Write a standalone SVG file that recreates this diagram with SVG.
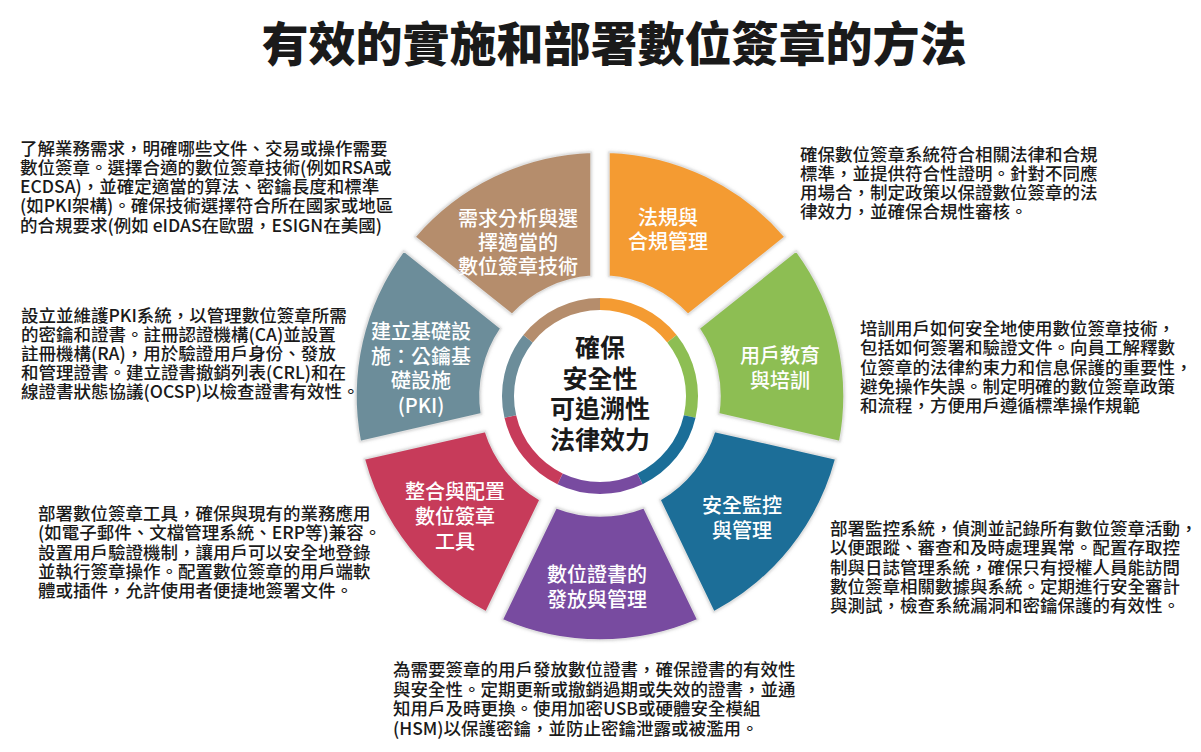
<svg xmlns="http://www.w3.org/2000/svg" width="1201" height="752" viewBox="0 0 1201 752" lang="zh-Hant-TW" xml:lang="zh-Hant-TW">
<defs>
<style>
.title{font-family:"Noto Sans CJK TC","Noto Sans",sans-serif;font-size:47px;font-weight:900;fill:#1a1a1a;text-anchor:middle}
.desc{font-family:"Noto Sans CJK TC","Noto Sans",sans-serif;font-size:17.5px;font-weight:500;fill:#1a1a1a}
.seg{stroke:#e2e2e2;stroke-width:1.5;filter:url(#sh)}
.lbl{font-family:"Noto Sans CJK TC","Noto Sans",sans-serif;font-size:20px;font-weight:500;fill:#ffffff;text-anchor:middle}
.ctr{font-family:"Noto Sans CJK TC","Noto Sans",sans-serif;font-size:25px;font-weight:700;fill:#1a1a1a;text-anchor:middle}
.ring{fill:none;stroke-width:12}
</style>
<filter id="sh" x="-10%" y="-10%" width="120%" height="120%">
<feDropShadow dx="0" dy="0" stdDeviation="1.5" flood-color="#9a9a9a" flood-opacity="0.5"/>
</filter>
</defs>
<rect width="1201" height="752" fill="#ffffff"/>
<text class="title" x="614" y="61">有效的實施和部署數位簽章的方法</text>

<g id="connectors"></g>

<g id="node-requirements">
<path class="seg" fill="#B58D6C" d="M414.96,236.95 A244,244 0 0 1 591.02,152.17 L591,276.34 A120,120 0 0 0 512.05,314.36 Z"/>
<text class="lbl" x="518"><tspan x="518" y="226">需求分析與選</tspan><tspan x="518" y="250">擇適當的</tspan><tspan x="518" y="274">數位簽章技術</tspan></text>
</g>
<g id="node-compliance">
<path class="seg" fill="#F49B32" d="M608.98,152.17 A244,244 0 0 1 785.04,236.95 L687.95,314.36 A120,120 0 0 0 609,276.34 Z"/>
<text class="lbl"><tspan x="668" y="225">法規與</tspan><tspan x="668" y="249">合規管理</tspan></text>
</g>
<g id="node-training">
<path class="seg" fill="#8DBE53" d="M796.24,251 A244,244 0 0 1 839.72,441.5 L718.66,413.85 A120,120 0 0 0 699.17,328.43 Z"/>
<text class="lbl"><tspan x="780" y="363">用戶教育</tspan><tspan x="780" y="388">與培訓</tspan></text>
</g>
<g id="node-monitoring">
<path class="seg" fill="#1B6E98" d="M835.72,459.02 A244,244 0 0 1 713.89,611.79 L660.03,499.91 A120,120 0 0 0 714.66,431.4 Z"/>
<text class="lbl"><tspan x="742" y="513">安全監控</tspan><tspan x="742" y="538">與管理</tspan></text>
</g>
<g id="node-certificates">
<path class="seg" fill="#784BA0" d="M697.7,619.59 A244,244 0 0 1 502.3,619.59 L556.19,507.72 A120,120 0 0 0 643.81,507.72 Z"/>
<text class="lbl"><tspan x="597" y="582">數位證書的</tspan><tspan x="597" y="607">發放與管理</tspan></text>
</g>
<g id="node-integration">
<path class="seg" fill="#C73B5A" d="M486.11,611.79 A244,244 0 0 1 364.28,459.02 L485.34,431.4 A120,120 0 0 0 539.97,499.91 Z"/>
<text class="lbl"><tspan x="455" y="499">整合與配置</tspan><tspan x="455" y="524">數位簽章</tspan><tspan x="455" y="549">工具</tspan></text>
</g>
<g id="node-pki">
<path class="seg" fill="#6C8D9A" d="M360.28,441.5 A244,244 0 0 1 403.76,251 L500.83,328.43 A120,120 0 0 0 481.34,413.85 Z"/>
<text class="lbl"><tspan x="421" y="339">建立基礎設</tspan><tspan x="421" y="364">施：公鑰基</tspan><tspan x="421" y="388">礎設施</tspan><tspan x="421" y="413">(PKI)</tspan></text>
</g>

<g id="node-center">
<circle cx="600" cy="396" r="86" fill="#ffffff"/>
<path class="ring" stroke="#F49B32" d="M600,304 A92,92 0 0 1 671.93,338.64"/>
<path class="ring" stroke="#8DBE53" d="M671.93,338.64 A92,92 0 0 1 689.69,416.47"/>
<path class="ring" stroke="#1B6E98" d="M689.69,416.47 A92,92 0 0 1 639.92,478.89"/>
<path class="ring" stroke="#784BA0" d="M639.92,478.89 A92,92 0 0 1 560.08,478.89"/>
<path class="ring" stroke="#C73B5A" d="M560.08,478.89 A92,92 0 0 1 510.31,416.47"/>
<path class="ring" stroke="#6C8D9A" d="M510.31,416.47 A92,92 0 0 1 528.07,338.64"/>
<path class="ring" stroke="#B58D6C" d="M528.07,338.64 A92,92 0 0 1 600,304"/>
<text class="ctr"><tspan x="600" y="357">確保</tspan><tspan x="600" y="388">安全性</tspan><tspan x="600" y="418">可追溯性</tspan><tspan x="600" y="449">法律效力</tspan></text>
</g>

<g id="desc-requirements">
<text class="desc"><tspan x="20" y="154.5">了解業務需求，明確哪些文件、交易或操作需要</tspan><tspan x="20" y="173.8">數位簽章。選擇合適的數位簽章技術(例如RSA或</tspan><tspan x="20" y="193.1">ECDSA)，並確定適當的算法、密鑰長度和標準</tspan><tspan x="20" y="212.4">(如PKI架構)。確保技術選擇符合所在國家或地區</tspan><tspan x="20" y="231.7">的合規要求(例如 eIDAS在歐盟，ESIGN在美國)</tspan></text>
</g>
<g id="desc-compliance">
<text class="desc"><tspan x="800" y="160.5">確保數位簽章系統符合相關法律和合規</tspan><tspan x="800" y="179.8">標準，並提供符合性證明。針對不同應</tspan><tspan x="800" y="199.1">用場合，制定政策以保證數位簽章的法</tspan><tspan x="800" y="218.4">律效力，並確保合規性審核。</tspan></text>
</g>
<g id="desc-pki">
<text class="desc"><tspan x="21" y="321.6">設立並維護PKI系統，以管理數位簽章所需</tspan><tspan x="21" y="340.8">的密鑰和證書。註冊認證機構(CA)並設置</tspan><tspan x="21" y="360">註冊機構(RA)，用於驗證用戶身份、發放</tspan><tspan x="21" y="379.2">和管理證書。建立證書撤銷列表(CRL)和在</tspan><tspan x="21" y="398.4">線證書狀態協議(OCSP)以檢查證書有效性。</tspan></text>
</g>
<g id="desc-training">
<text class="desc"><tspan x="860" y="335">培訓用戶如何安全地使用數位簽章技術，</tspan><tspan x="860" y="354.3">包括如何簽署和驗證文件。向員工解釋數</tspan><tspan x="860" y="373.6">位簽章的法律約束力和信息保護的重要性，</tspan><tspan x="860" y="392.9">避免操作失誤。制定明確的數位簽章政策</tspan><tspan x="860" y="412.2">和流程，方便用戶遵循標準操作規範</tspan></text>
</g>
<g id="desc-integration">
<text class="desc"><tspan x="38" y="520">部署數位簽章工具，確保與現有的業務應用</tspan><tspan x="38" y="539.3">(如電子郵件、文檔管理系統、ERP等)兼容。</tspan><tspan x="38" y="558.6">設置用戶驗證機制，讓用戶可以安全地登錄</tspan><tspan x="38" y="577.9">並執行簽章操作。配置數位簽章的用戶端軟</tspan><tspan x="38" y="597.2">體或插件，允許使用者便捷地簽署文件。</tspan></text>
</g>
<g id="desc-monitoring">
<text class="desc"><tspan x="830" y="535">部署監控系統，偵測並記錄所有數位簽章活動，</tspan><tspan x="830" y="554.3">以便跟蹤、審查和及時處理異常。配置存取控</tspan><tspan x="830" y="573.6">制與日誌管理系統，確保只有授權人員能訪問</tspan><tspan x="830" y="592.9">數位簽章相關數據與系統。定期進行安全審計</tspan><tspan x="830" y="612.2">與測試，檢查系統漏洞和密鑰保護的有效性。</tspan></text>
</g>
<g id="desc-certificates">
<text class="desc"><tspan x="393" y="676">為需要簽章的用戶發放數位證書，確保證書的有效性</tspan><tspan x="393" y="695.6">與安全性。定期更新或撤銷過期或失效的證書，並通</tspan><tspan x="393" y="715.2">知用戶及時更換。使用加密USB或硬體安全模組</tspan><tspan x="393" y="734.8">(HSM)以保護密鑰，並防止密鑰泄露或被濫用。</tspan></text>
</g>
</svg>
